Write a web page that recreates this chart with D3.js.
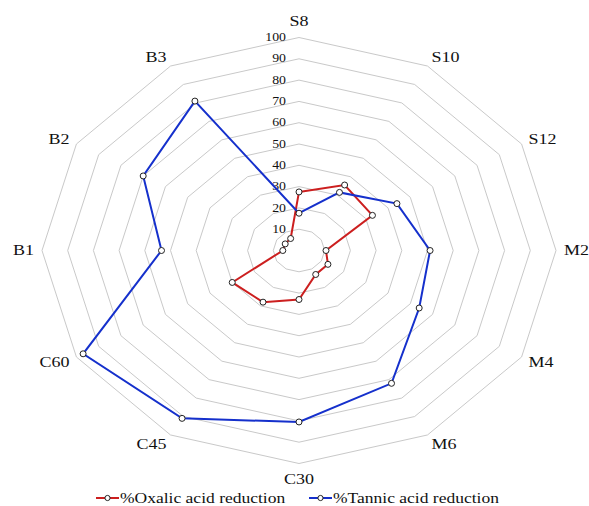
<!DOCTYPE html>
<html>
<head>
<meta charset="utf-8">
<script src="https://cdn.jsdelivr.net/npm/d3@7"></script>
<style>
  html, body { margin: 0; padding: 0; background: #fff; }
  svg { display: block; }
  text { font-family: "Liberation Serif", "Times New Roman", serif; fill: #111; }
</style>
</head>
<body>
<svg id="chart" width="589" height="506"></svg>
<script>
const categories = ["S8","S10","S12","M2","M4","M6","C30","C45","C60","B1","B2","B3"];
const oxalic = [27.5, 35.5, 33, 10.5, 13, 13, 23, 28, 30, 6.3, 6.2, 6.5];
const tannic = [17.5, 31.5, 44, 51, 54, 72, 80.5, 91, 97, 53.5, 70, 81];
const ticks = [10,20,30,40,50,60,70,80,90,100];
const seriesNames = ["%Oxalic acid reduction", "%Tannic acid reduction"];
const seriesColors = ["#cc1f1f", "#1530cc"];

const svg = d3.select("#chart");
const cx = 299, cy = 250.5, rx = 257, ry = 213;
const rScale = d3.scaleLinear().domain([0, 100]).range([0, 1]);
const angle = d3.scalePoint().domain(categories).range([0, 2*Math.PI*(categories.length-1)/categories.length]);
const px = (c, v) => cx + rx * rScale(v) * Math.sin(angle(c));
const py = (c, v) => cy - ry * rScale(v) * Math.cos(angle(c));
const SX = 1.2; // horizontal stretch of the reference

// rings
const ringLine = d3.line().x(d => d[0]).y(d => d[1]).curve(d3.curveLinearClosed);
svg.append("g").selectAll("path").data(ticks).join("path")
  .attr("d", t => ringLine(categories.map(c => [px(c, t), py(c, t)])))
  .attr("fill", "none").attr("stroke", "#c9c9c9").attr("stroke-width", 1);

// tick labels
svg.append("g").selectAll("text").data(ticks).join("text")
  .attr("transform", t => `translate(${cx - 13},${py(categories[0], t)}) scale(${SX},1)`)
  .attr("text-anchor", "end").attr("dominant-baseline", "central")
  .style("font-size", "11.5px").text(t => t);

// category labels
svg.append("g").selectAll("text").data(categories).join("text")
  .attr("transform", c => {
    const a = angle(c), s = Math.sin(a), co = Math.cos(a);
    let x = px(c, 100) + s * 8;
    let y = py(c, 100) - co * (Math.abs(co) > 0.99 ? 16 : 10);
    return `translate(${x},${y}) scale(${SX},1)`;
  })
  .attr("text-anchor", c => { const s = Math.sin(angle(c)); return s > 0.1 ? "start" : (s < -0.1 ? "end" : "middle"); })
  .attr("dominant-baseline", "central")
  .style("font-size", "15px").text(c => c);

// series
const seriesData = [oxalic, tannic];
const line = d3.line().x(d => d.x).y(d => d.y).curve(d3.curveLinearClosed);
seriesData.forEach((vals, i) => {
  const pts = categories.map((c, k) => ({ x: px(c, vals[k]), y: py(c, vals[k]) }));
  const g = svg.append("g");
  g.append("path").attr("d", line(pts)).attr("fill", "none")
    .attr("stroke", seriesColors[i]).attr("stroke-width", 2);
  g.selectAll("circle").data(pts).join("circle")
    .attr("cx", d => d.x).attr("cy", d => d.y).attr("r", 3)
    .attr("fill", "#fff").attr("stroke", "#222").attr("stroke-width", 1);
});

// legend
const legendX = [96, 309];
const legendY = 498;
seriesNames.forEach((name, i) => {
  const g = svg.append("g").attr("transform", `translate(${legendX[i]},${legendY})`);
  g.append("line").attr("x1", 0).attr("x2", 23).attr("y1", 0).attr("y2", 0)
    .attr("stroke", seriesColors[i]).attr("stroke-width", 2);
  g.append("circle").attr("cx", 11.5).attr("cy", 0).attr("r", 2.6)
    .attr("fill", "#fff").attr("stroke", "#222").attr("stroke-width", 1);
  g.append("text").attr("transform", `translate(24,0) scale(${SX},1)`)
    .attr("dominant-baseline", "central").style("font-size", "14.6px").text(name);
});
</script>
</body>
</html>
